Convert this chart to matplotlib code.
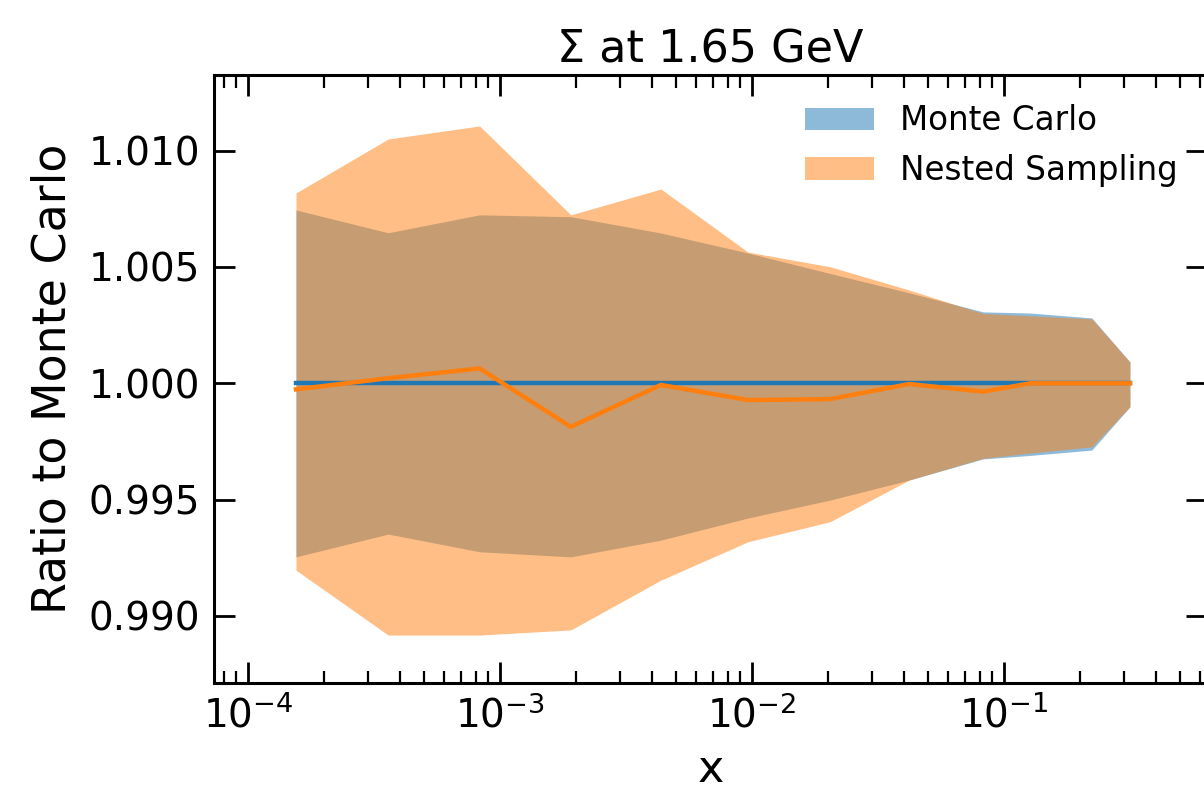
"""Sigma ratio to Monte Carlo at 1.65 GeV: MC vs nested sampling bands."""

import matplotlib

matplotlib.use("Agg")
import matplotlib.pyplot as plt
import numpy as np

# x grid of the PDF comparison
x_grid = [1.55e-4, 3.6e-4, 8.3e-4, 1.91e-3, 4.35e-3, 9.64e-3,
          2.04e-2, 4.2e-2, 8.26e-2, 0.127, 0.223, 0.316]

# Monte Carlo band (ratio to its own central value)
mc_central = [1.0, 1.0, 1.0, 1.0, 1.0, 1.0, 1.0, 1.0, 1.0, 1.0, 1.0, 1.0]
mc_upper = [1.00745, 1.00647, 1.00724, 1.00716, 1.00646, 1.00560,
            1.00472, 1.00389, 1.00307, 1.00302, 1.00281, 1.00092]
mc_lower = [0.99254, 0.99352, 0.99276, 0.99254, 0.99326, 0.99421,
            0.99498, 0.99584, 0.99675, 0.99690, 0.99713, 0.99899]

# Nested sampling band
ns_central = [0.99974, 1.00022, 1.00064, 0.99813, 0.99993, 0.99928,
              0.99932, 0.99997, 0.99964, 1.00000, 1.00000, 1.00000]
ns_upper = [1.00818, 1.01050, 1.01106, 1.00724, 1.00835, 1.00564,
            1.00501, 1.00401, 1.00300, 1.00290, 1.00277, 1.00092]
ns_lower = [0.99197, 0.98918, 0.98918, 0.98940, 0.99154, 0.99319,
            0.99405, 0.99584, 0.99678, 0.99700, 0.99727, 0.99899]

x = np.array(x_grid)

fig = plt.figure(figsize=(12.04, 7.89), dpi=100)
ax = fig.add_axes([214 / 1204, 1 - 683 / 789, (1207 - 214) / 1204, (683 - 75) / 789])

ax.fill_between(x, mc_lower, mc_upper, color="C0", alpha=0.5, lw=0, label="Monte Carlo")
ax.fill_between(x, ns_lower, ns_upper, color="C1", alpha=0.5, lw=0, label="Nested Sampling")
ax.plot(x, mc_central, color="C0", lw=3.2)
ax.plot(x, ns_central, color="C1", lw=3.2)

ax.set_xscale("log")
ax.set_xlim(7.33e-5, 0.639)
ax.set_ylim(0.98712, 1.01325)
ax.set_yticks([0.990, 0.995, 1.000, 1.005, 1.010])
ax.yaxis.set_major_formatter(matplotlib.ticker.FormatStrFormatter("%.3f"))

ax.tick_params(which="both", direction="in", top=True, right=True)
ax.tick_params(which="major", length=15, width=2, labelsize=28)
ax.tick_params(which="minor", length=9, width=1.6)
ax.tick_params(axis="y", pad=10)
ax.tick_params(axis="x", pad=9)
for sp in ax.spines.values():
    sp.set_linewidth(2.2)

ax.set_title("Σ at 1.65 GeV", fontsize=32, pad=9)
ax.set_xlabel("x", fontsize=32, labelpad=9)
ax.set_ylabel("Ratio to Monte Carlo", fontsize=33, labelpad=9)
ax.legend(loc="upper right", frameon=False, fontsize=23.5, handlelength=2.1)

fig.savefig("out.png", dpi=100)
